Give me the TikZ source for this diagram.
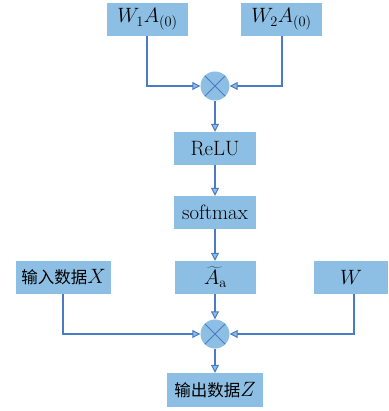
\documentclass[tikz,border=0pt]{standalone}
\usepackage{fontspec}
\newfontfamily\cjkface{Noto Sans CJK SC}
\newcommand{\cjk}{\cjkface\fontsize{16.5}{20}\selectfont}
\usetikzlibrary{arrows.meta}
\definecolor{boxc}{HTML}{8DBEE3}
\definecolor{linec}{HTML}{4A7BC4}
\tikzset{
  blk/.style={fill=boxc, inner sep=0pt, minimum height=33pt, font=\huge},
  mult/.style={circle, fill=boxc, inner sep=0pt, minimum size=29pt,
    path picture={\draw[linec, line width=1pt]
      (path picture bounding box.north west) -- (path picture bounding box.south east)
      (path picture bounding box.north east) -- (path picture bounding box.south west);}},
  link/.style={draw=linec, line width=1.1pt,
    -{Triangle[length=8pt, width=8pt, fill=boxc, line width=1pt]}},
}
\begin{document}
\begin{tikzpicture}[x=1pt, y=-1pt]
  \useasboundingbox (0,0) rectangle (388,411);

  % inputs of the first product
  \node[blk, minimum width=81pt] (w1) at (147.5,19.5) {$W_1A_{(0)}$};
  \node[blk, minimum width=81pt] (w2) at (281.5,19.5) {$W_2A_{(0)}$};
  \node[mult] (m1) at (215,86) {};

  % activation chain
  \node[blk, minimum width=82pt] (relu) at (215,148.5) {ReLU};
  \node[blk, minimum width=82pt] (soft) at (215,212.5) {softmax};
  \node[blk, minimum width=81pt] (at) at (215.5,277.5) {$\widetilde{A}_{\mathrm{a}}$};

  % inputs of the second product
  \node[blk, minimum width=95pt] (x) at (63.5,277.5) {{\cjk 输入数据}$X$};
  \node[blk, minimum width=74pt] (w) at (351,277.5) {$W$};
  \node[mult] (m2) at (215,334) {};
  \node[blk, minimum width=96pt, minimum height=34pt] (z) at (215,390) {{\cjk 输出数据}$Z$};

  % connectors
  \draw[link] (w1.south -| 147,0) |- (m1.west);
  \draw[link] (w2.south -| 282,0) |- (m1.east);
  \draw[link] (m1) -- (relu);
  \draw[link] (relu) -- (soft);
  \draw[link] (soft) -- (at.north -| soft.south);
  \draw[link] (at.south -| m2.north) -- (m2);
  \draw[link] (x.south -| 63,0) |- (m2.west);
  \draw[link] (w.south -| 354,0) |- (m2.east);
  \draw[link] (m2) -- (z);
\end{tikzpicture}
\end{document}
